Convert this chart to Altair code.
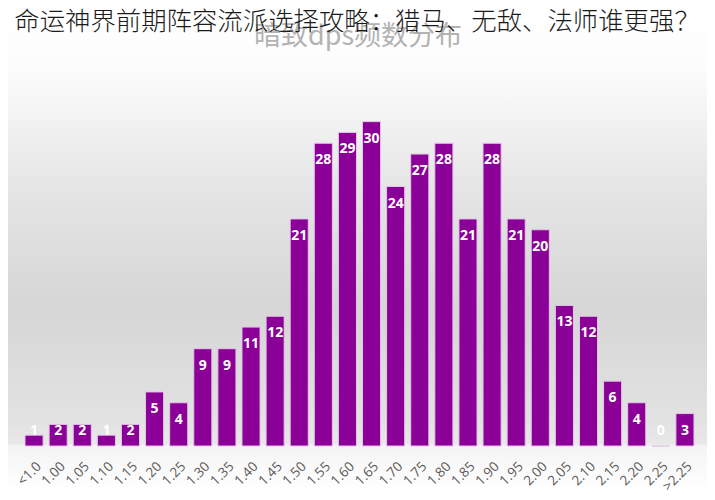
import altair as alt
import pandas as pd

categories = ["<1.0", "1.00", "1.05", "1.10", "1.15", "1.20", "1.25", "1.30", "1.35",
              "1.40", "1.45", "1.50", "1.55", "1.60", "1.65", "1.70", "1.75", "1.80",
              "1.85", "1.90", "1.95", "2.00", "2.05", "2.10", "2.15", "2.20", "2.25", ">2.25"]
counts = [1, 2, 2, 1, 2, 5, 4, 9, 9, 11, 12, 21, 28, 29, 30, 24, 27, 28, 21, 28, 21, 20,
          13, 12, 6, 4, 0, 3]

title_text = "命运神界前期阵容流派选择攻略：猎马、无敌、法师谁更强？"
subtitle_text = "暗致dps频数分布"

df = pd.DataFrame({"cat": categories, "n": counts})

W, H = 681, 346

xenc = alt.X("cat:O", sort=categories, title=None,
             scale=alt.Scale(paddingInner=0.25, paddingOuter=0.25),
             axis=alt.Axis(labelAngle=-45, labelFontSize=13.5, labelColor="#595959",
                           labelFont="Open Sans", domain=False, ticks=False,
                           labelPadding=13, grid=False, zindex=2, labelOverlap=False))
yscale = alt.Scale(domain=[0, 32], nice=False, zero=True)

grad = alt.Gradient(
    gradient="linear", x1=0, x2=0, y1=0, y2=1,
    stops=[
        alt.GradientStop(color="#ffffff", offset=0.0),
        alt.GradientStop(color="#fcfcfc", offset=0.13),
        alt.GradientStop(color="#e6e6e6", offset=0.36),
        alt.GradientStop(color="#d6d6d6", offset=0.62),
        alt.GradientStop(color="#e2e2e2", offset=0.85),
        alt.GradientStop(color="#e8e8e8", offset=0.90),
        alt.GradientStop(color="#f4f4f4", offset=0.905),
        alt.GradientStop(color="#ffffff", offset=1.0),
    ])

bg = alt.Chart(df).mark_rect(fill=grad).encode(
    x=alt.value(-11), x2=alt.value(688), y=alt.value(-92), y2=alt.value(392)
)

bars = alt.Chart(df).mark_bar(color="#8b0096", stroke="#e2c6e8", strokeWidth=1).encode(
    x=xenc,
    y=alt.Y("n:Q", scale=yscale, axis=None),
)

labels = alt.Chart(df).transform_calculate(
    ly="max(datum.n, 3)"
).mark_text(color="white", fontWeight="bold", fontSize=14, font="Open Sans",
            baseline="middle", dy=17).encode(
    x=alt.X("cat:O", sort=categories),
    y=alt.Y("ly:Q", scale=yscale),
    text="n:Q",
)

title = alt.Chart(pd.DataFrame({"t": [title_text]})).mark_text(
    fontSize=25.4, font="Noto Sans CJK SC", fontWeight=300, color="#1a1a1a",
    align="center", baseline="middle").encode(
    x=alt.value(338), y=alt.value(-78), text="t:N")

subtitle = alt.Chart(pd.DataFrame({"t": [subtitle_text]})).mark_text(
    fontSize=27, font="Noto Sans CJK SC", color="#a6a6a6", opacity=0.85,
    align="center", baseline="middle").encode(
    x=alt.value(339), y=alt.value(-63), text="t:N")

chart = alt.layer(bg, bars, labels, subtitle, title).properties(
    width=W, height=H, padding=0
).configure_view(stroke="transparent")

chart.save("out.html", embed_options={"renderer": "svg", "actions": False})
